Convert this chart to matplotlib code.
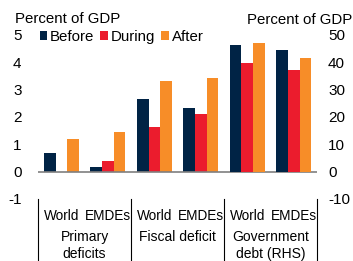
import numpy as np
import matplotlib
matplotlib.use("Agg")
import matplotlib.pyplot as plt
from matplotlib.lines import Line2D

# values (percent of GDP)
series = ["Before", "During", "After"]
colors = ["#002345", "#EB1C2D", "#F78D28"]
sub_labels = ["World", "EMDEs", "World", "EMDEs", "World", "EMDEs"]
group_labels = ["Primary\ndeficits", "Fiscal deficit", "Government\ndebt (RHS)"]

primary = {"Before": [0.67, 0.15], "During": [-0.02, 0.39], "After": [1.18, 1.45]}
fiscal = {"Before": [2.67, 2.34], "During": [1.64, 2.09], "After": [3.33, 3.42]}
debt = {"Before": [46.3, 44.6], "During": [39.8, 37.2], "After": [46.9, 41.5]}

plt.rcParams["font.family"] = ["Liberation Sans", "DejaVu Sans"]
plt.rcParams["axes.unicode_minus"] = False

fig = plt.figure(figsize=(3.53, 2.61), dpi=100)
ax = fig.add_axes([0.108, 0.238, 0.79, 0.628])
ax2 = ax.twinx()

x = np.arange(6)
w = 0.25
for i, s in enumerate(series):
    lhs = primary[s] + fiscal[s]
    ax.bar(x[:4] + (i - 1) * w, lhs, w, color=colors[i], label=s)
    ax2.bar(x[4:] + (i - 1) * w, debt[s], w, color=colors[i])

ax.set_xlim(-0.5, 5.5)
ax.set_ylim(-1, 5)
ax2.set_ylim(-10, 50)
ax.set_yticks(range(-1, 6))
ax2.set_yticks(range(-10, 51, 10))
ax.axhline(0, color="#7f7f7f", lw=1.2, zorder=3)

for a in (ax, ax2):
    for sp in a.spines.values():
        sp.set_visible(False)
    a.tick_params(length=0, labelsize=11)
ax.tick_params(axis="y", pad=12)
ax2.tick_params(axis="y", pad=8)

ax.set_xticks(x)
ax.set_xticklabels(sub_labels)
ax.tick_params(axis="x", pad=7, labelsize=9.8)

# group labels and separators below the axis
for g, lab in enumerate(group_labels):
    fig.text((38 + 93 * g + 46.5) / 353, 1 - 230 / 261, lab, ha="center", va="top",
             fontsize=10, linespacing=1.25)
for xs in [-0.5, 1.5, 3.5, 5.5]:
    ax.add_line(Line2D([xs, xs], [0.0, -0.4], transform=ax.get_xaxis_transform(),
                       color="black", lw=0.8, clip_on=False))

fig.text(15 / 353, 1 - 19 / 261, "Percent of GDP", fontsize=10.8, va="center", ha="left")
fig.text(352 / 353, 1 - 20 / 261, "Percent of GDP", fontsize=10.8, va="center", ha="right")

ax.legend(loc="upper left", bbox_to_anchor=(0.005, 1.03), ncol=3, frameon=False,
          handlelength=0.5, handleheight=0.5, handletextpad=0.2, columnspacing=0.4,
          fontsize=10.8, borderaxespad=0, borderpad=0)

fig.savefig("out.png", dpi=100)
